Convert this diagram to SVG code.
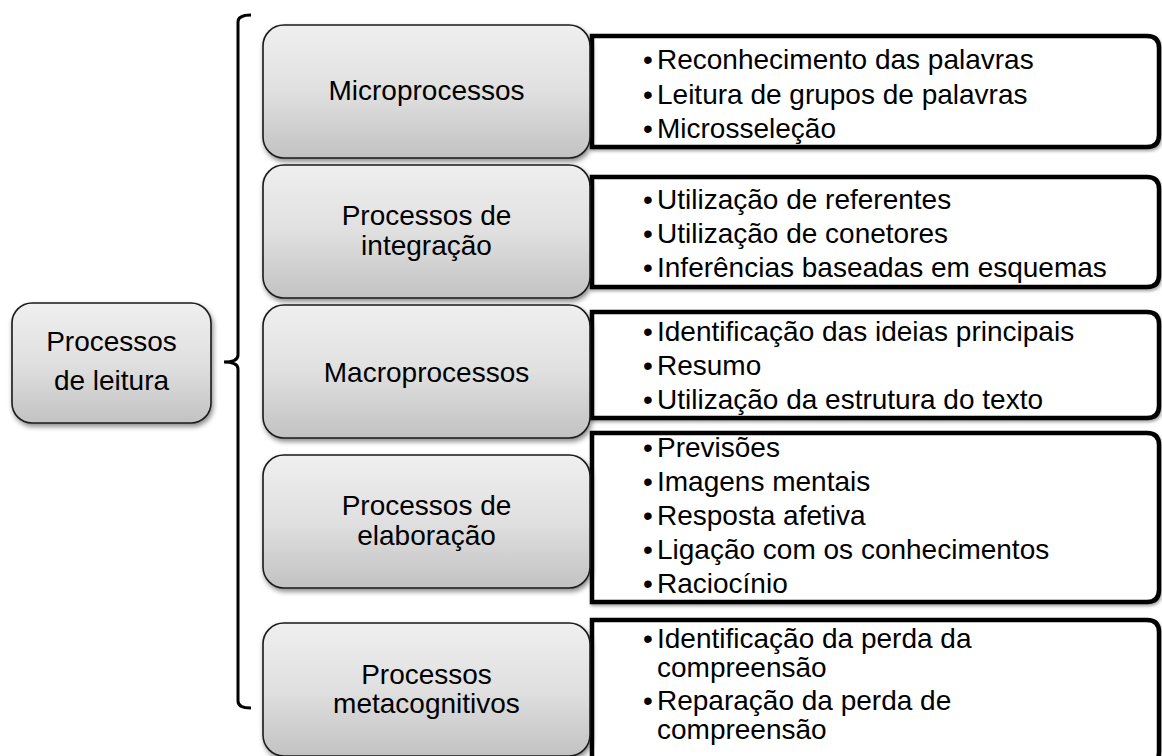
<svg xmlns="http://www.w3.org/2000/svg" width="1162" height="756" viewBox="0 0 1162 756">
<style>
  text { font-family: "Liberation Sans", Arial, sans-serif; font-size: 28px; fill: #000; }
  .c { text-anchor: middle; }
  .b { text-anchor: middle; }
  .node { fill: url(#gray); stroke: #1a1a1a; stroke-width: 1.6; filter: url(#sh); }
  .list { fill: #fff; stroke: #000; stroke-width: 4.5; filter: url(#sh2); }
  .brace { fill: none; stroke: #000; stroke-width: 3; }
</style>
<defs>
  <linearGradient id="gray" x1="0" y1="0" x2="0" y2="1">
    <stop offset="0" stop-color="#efefef"/>
    <stop offset="0.5" stop-color="#e0e0e0"/>
    <stop offset="1" stop-color="#c2c2c2"/>
  </linearGradient>
  <filter id="sh" x="-10%" y="-10%" width="125%" height="130%">
    <feDropShadow dx="1.5" dy="3" stdDeviation="2.5" flood-color="#000" flood-opacity="0.45"/>
  </filter>
  <filter id="sh2" x="-5%" y="-10%" width="112%" height="130%">
    <feDropShadow dx="1" dy="2" stdDeviation="1.5" flood-color="#000" flood-opacity="0.35"/>
  </filter>
</defs>
<rect width="1162" height="756" fill="#fff"/>

<g id="lists">
  <g id="list-micro">
    <path class="list" d="M592,36 H1147 Q1159,36 1159,48 V135 Q1159,147 1147,147 H592 Z"/>
    <text class="b" x="648" y="69">•</text><text x="657" y="69">Reconhecimento das palavras</text>
    <text class="b" x="648" y="103.5">•</text><text x="657" y="103.5">Leitura de grupos de palavras</text>
    <text class="b" x="648" y="138">•</text><text x="657" y="138">Microsseleção</text>
  </g>
  <g id="list-integracao">
    <path class="list" d="M592,177 H1147 Q1159,177 1159,189 V275 Q1159,287 1147,287 H592 Z"/>
    <text class="b" x="648" y="209">•</text><text x="657" y="209">Utilização de referentes</text>
    <text class="b" x="648" y="243">•</text><text x="657" y="243">Utilização de conetores</text>
    <text class="b" x="648" y="277">•</text><text x="657" y="277">Inferências baseadas em esquemas</text>
  </g>
  <g id="list-macro">
    <path class="list" d="M592,312 H1147 Q1159,312 1159,324 V406 Q1159,418 1147,418 H592 Z"/>
    <text class="b" x="648" y="341">•</text><text x="657" y="341">Identificação das ideias principais</text>
    <text class="b" x="648" y="375">•</text><text x="657" y="375">Resumo</text>
    <text class="b" x="648" y="409">•</text><text x="657" y="409">Utilização da estrutura do texto</text>
  </g>
  <g id="list-elaboracao">
    <path class="list" d="M592,433 H1147 Q1159,433 1159,445 V590 Q1159,602 1147,602 H592 Z"/>
    <text class="b" x="648" y="457">•</text><text x="657" y="457">Previsões</text>
    <text class="b" x="648" y="491">•</text><text x="657" y="491">Imagens mentais</text>
    <text class="b" x="648" y="525">•</text><text x="657" y="525">Resposta afetiva</text>
    <text class="b" x="648" y="559">•</text><text x="657" y="559">Ligação com os conhecimentos</text>
    <text class="b" x="648" y="593">•</text><text x="657" y="593">Raciocínio</text>
  </g>
  <g id="list-meta">
    <path class="list" d="M592,620 H1147 Q1159,620 1159,632 V752 Q1159,764 1147,764 H592 Z"/>
    <text class="b" x="648" y="648">•</text><text x="657" y="648">Identificação da perda da</text>
    <text x="657" y="677">compreensão</text>
    <text class="b" x="648" y="710">•</text><text x="657" y="710">Reparação da perda de</text>
    <text x="657" y="739">compreensão</text>
  </g>
</g>

<g id="connectors">
  <path class="brace" d="M251,15 Q238,15 238,22 V355 Q238,362 224,362 Q238,362 238,369 V701 Q238,708 251,708"/>
</g>

<g id="node-root">
  <rect class="node" x="12" y="303" width="199" height="120" rx="20"/>
  <text class="c" x="111.5" y="351">Processos</text>
  <text class="c" x="111.5" y="390">de leitura</text>
</g>
<g id="node-micro">
  <rect class="node" x="263" y="25" width="327" height="133" rx="21"/>
  <text class="c" x="426.5" y="100">Microprocessos</text>
</g>
<g id="node-integracao">
  <rect class="node" x="263" y="165" width="327" height="133" rx="21"/>
  <text class="c" x="426.5" y="225">Processos de</text>
  <text class="c" x="426.5" y="255">integração</text>
</g>
<g id="node-macro">
  <rect class="node" x="263" y="305" width="327" height="133" rx="21"/>
  <text class="c" x="426.5" y="382">Macroprocessos</text>
</g>
<g id="node-elaboracao">
  <rect class="node" x="263" y="455" width="327" height="133" rx="21"/>
  <text class="c" x="426.5" y="515">Processos de</text>
  <text class="c" x="426.5" y="545">elaboração</text>
</g>
<g id="node-meta">
  <rect class="node" x="263" y="623" width="327" height="133" rx="21"/>
  <text class="c" x="426.5" y="684">Processos</text>
  <text class="c" x="426.5" y="713">metacognitivos</text>
</g>
</svg>
